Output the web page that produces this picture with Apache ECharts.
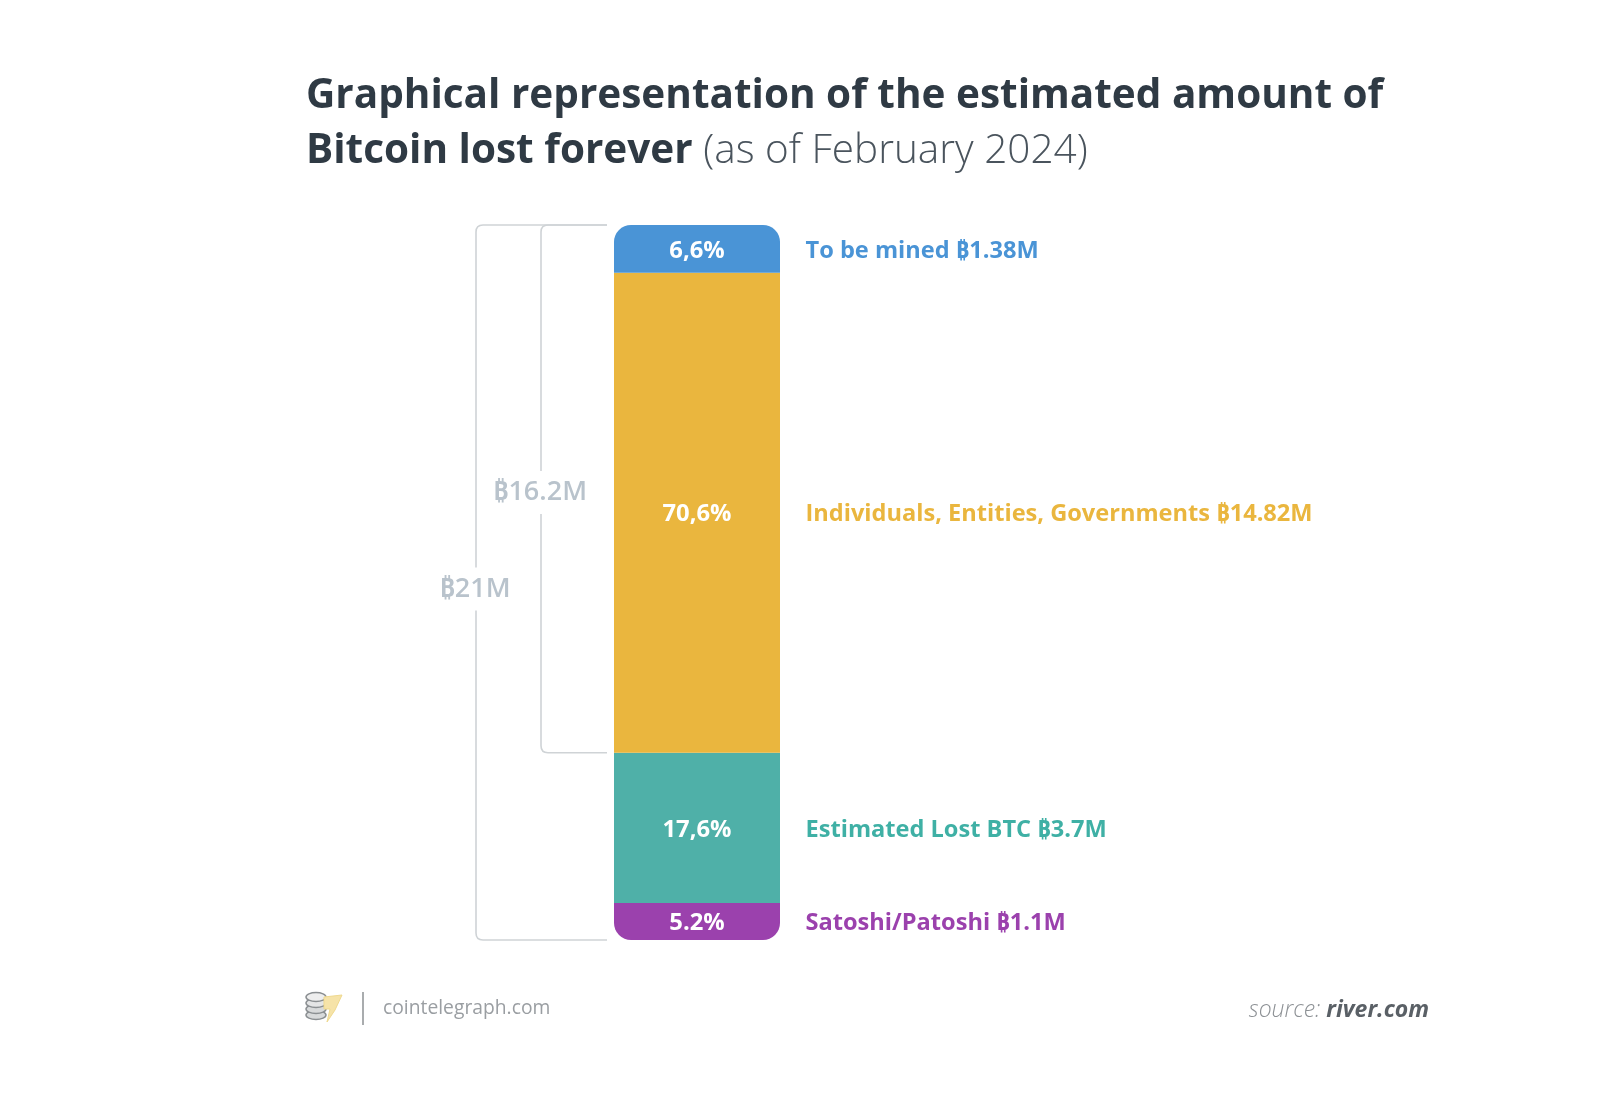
<!DOCTYPE html>
<html lang="en">
<head>
<meta charset="UTF-8">
<title>Bitcoin lost forever</title>
<style>
html, body { margin: 0; padding: 0; background: #fff; }
#main { width: 1600px; height: 1094px; }
</style>
</head>
<body>
<div id="main"></div>
<script src="https://cdn.jsdelivr.net/npm/echarts@6/dist/echarts.min.js"></script>
<script>
// bottom to top, same order as the stack
var segmentNames = ['Satoshi/Patoshi', 'Estimated Lost BTC', 'Individuals, Entities, Governments', 'To be mined'];
// segment heights as drawn in the picture (millions of BTC), they do not quite follow the printed labels
var segmentValues = [1.09, 4.41, 14.1, 1.4];
var percentLabels = ['5.2%', '17,6%', '70,6%', '6,6%'];
var amountLabels = ['₿1.1M', '₿3.7M', '₿14.82M', '₿1.38M'];
var segmentColors = ['#9b41ad', '#4fb0a8', '#eab63e', '#4a94d6'];
var labelColors = ['#9b41ad', '#3fb0a5', '#eab63e', '#4a94d6'];

// brackets on the left: from, to, where the label sits
var bracketLabels = ['₿21M', '₿16.2M'];
var bracketFrom = [0, 5.5];
var bracketTo = [21, 21];
var bracketLabelAt = [10.37, 13.2];
var bracketOffsets = [-221, -156];

var font = '"Open Sans", "Noto Sans", "DejaVu Sans", sans-serif';
var myChart = echarts.init(document.getElementById('main'));

var series = segmentNames.map(function (name, i) {
    return {
        name: name,
        type: 'bar',
        stack: 'total',
        barWidth: '100%',
        data: [segmentValues[i]],
        itemStyle: {
            color: segmentColors[i],
            borderRadius: i === 3 ? [17, 17, 0, 0] : (i === 0 ? [0, 0, 17, 17] : 0)
        },
        label: {
            show: true,
            position: 'inside',
            offset: [0, 2],
            formatter: percentLabels[i],
            color: '#fff',
            fontFamily: font,
            fontWeight: 'bold',
            fontSize: 23.8
        }
    };
});

// text to the right of each segment
series.push({
    type: 'custom',
    silent: true,
    data: segmentNames.map(function (n, i) { return [0, i]; }),
    renderItem: function (params, api) {
        var i = api.value(1);
        var base = 0;
        for (var k = 0; k < i; k++) base += segmentValues[k];
        var p = api.coord([0, base + segmentValues[i] / 2]);
        return {
            type: 'text',
            style: {
                x: p[0] + 108.5,
                y: p[1] + 2,
                text: segmentNames[i] + ' ' + amountLabels[i],
                fill: labelColors[i],
                font: 'bold 23.6px ' + font,
                verticalAlign: 'middle'
            }
        };
    }
});

// brackets
series.push({
    type: 'custom',
    silent: true,
    data: bracketLabels.map(function (n, i) { return [0, i]; }),
    renderItem: function (params, api) {
        var i = api.value(1);
        var top = api.coord([0, bracketTo[i]]);
        var bot = api.coord([0, bracketFrom[i]]);
        var lab = api.coord([0, bracketLabelAt[i]]);
        var x = top[0] + bracketOffsets[i];
        var endX = top[0] - 90;
        var r = 7;
        var d = 'M' + endX + ' ' + top[1] + 'L' + (x + r) + ' ' + top[1] +
            'Q' + x + ' ' + top[1] + ' ' + x + ' ' + (top[1] + r) +
            'L' + x + ' ' + (bot[1] - r) +
            'Q' + x + ' ' + bot[1] + ' ' + (x + r) + ' ' + bot[1] +
            'L' + endX + ' ' + bot[1];
        return {
            type: 'group',
            children: [{
                type: 'path',
                shape: { pathData: d },
                style: { fill: 'none', stroke: '#cfd3d6', lineWidth: 1.6 }
            }, {
                type: 'text',
                style: {
                    x: x - 1,
                    y: lab[1] + 2,
                    text: bracketLabels[i],
                    fill: '#b9c3cc',
                    font: '600 27px ' + font,
                    align: 'center',
                    verticalAlign: 'middle',
                    backgroundColor: '#fff',
                    padding: [8, 0, 8, 0]
                }
            }]
        };
    }
});

var option = {
    backgroundColor: '#fff',
    animation: false,
    title: {
        left: 301,
        top: 64,
        text: '{b|Graphical representation of the estimated amount of}\n{b|Bitcoin lost forever }{l|(as of February 2024)}',
        textStyle: {
            rich: {
                b: { fontFamily: font, fontWeight: 'bold', fontSize: 40.5, color: '#2f3a44', lineHeight: 55 },
                l: { fontFamily: font, fontWeight: 300, fontSize: 40.5, color: '#4a545d', lineHeight: 55 }
            }
        }
    },
    grid: { left: 614, top: 225, width: 166, height: 715 },
    xAxis: { type: 'category', data: ['BTC supply'], show: false },
    yAxis: { type: 'value', min: 0, max: 21, show: false },
    series: series,
    graphic: [
        // coin stack of the logo
        { type: 'ellipse', shape: { cx: 316, cy: 1015, rx: 10, ry: 4.5 }, style: { fill: '#d8dadb', stroke: '#8b8f92', lineWidth: 1.5 } },
        { type: 'ellipse', shape: { cx: 316, cy: 1009, rx: 10, ry: 4.5 }, style: { fill: '#d8dadb', stroke: '#8b8f92', lineWidth: 1.5 } },
        { type: 'ellipse', shape: { cx: 316, cy: 1003, rx: 10, ry: 4.5 }, style: { fill: '#e4e5e6', stroke: '#8b8f92', lineWidth: 1.5 } },
        { type: 'ellipse', shape: { cx: 316, cy: 997, rx: 10, ry: 4.5 }, style: { fill: '#eeeeee', stroke: '#8b8f92', lineWidth: 1.5 } },
        { type: 'polygon', shape: { points: [[324, 997], [342, 995], [335, 1010], [327, 1022], [330, 1009], [324, 1009]] }, style: { fill: '#f6e3a8', stroke: '#efd98f', lineWidth: 1 } },
        { type: 'line', shape: { x1: 363, y1: 992, x2: 363, y2: 1025 }, style: { stroke: '#a9acae', lineWidth: 2 } },
        { type: 'text', style: { x: 383, y: 1009, text: 'cointelegraph.com', fill: '#9a9ea2', font: '19.3px ' + font, verticalAlign: 'middle' } },
        {
            type: 'text',
            style: {
                x: 1429,
                y: 1010,
                text: '{a|source: }{c|river.com}',
                align: 'right',
                verticalAlign: 'middle',
                rich: {
                    a: { fontFamily: font, fontStyle: 'italic', fontWeight: 300, fontSize: 23, fill: '#8d9195', color: '#8d9195' },
                    c: { fontFamily: font, fontStyle: 'italic', fontWeight: 'bold', fontSize: 23, fill: '#5a6066', color: '#5a6066' }
                }
            }
        }
    ]
};
myChart.setOption(option);
</script>
</body>
</html>
